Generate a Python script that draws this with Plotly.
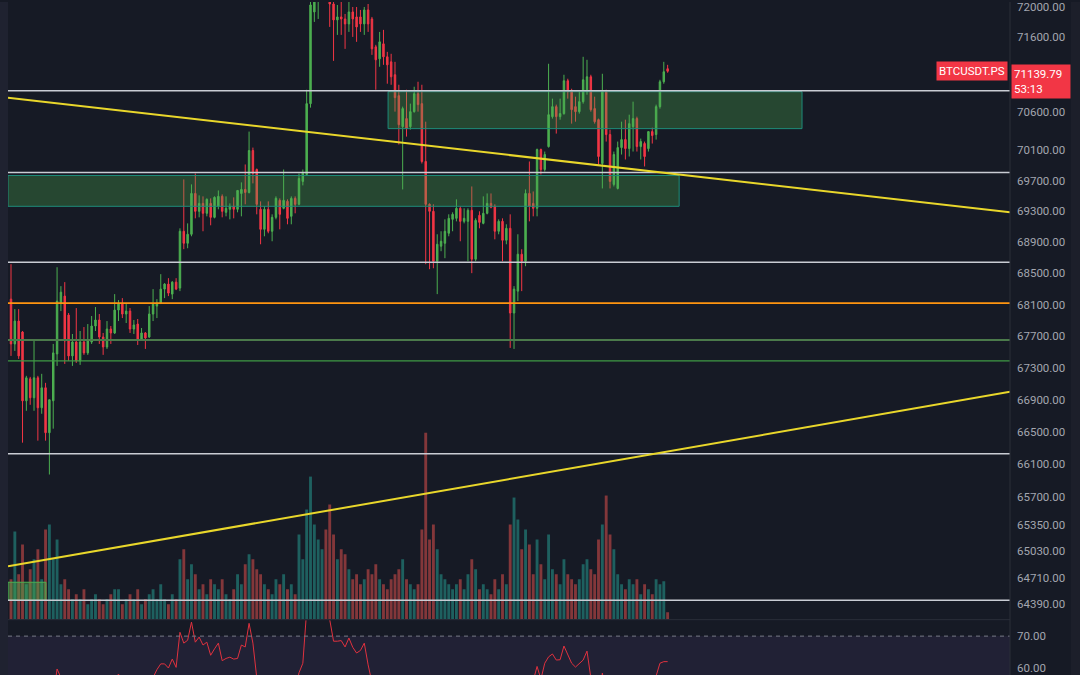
import math
import plotly.graph_objects as go

# ---------------- data ----------------
opens = [68171, 67602, 67892, 67753, 66887, 67162, 66925, 67175, 66800, 67050,
         66489, 66887, 67476, 68121, 68210, 67968, 67451, 67627, 67388, 67627,
         67489, 67627, 67829, 67905, 67690, 67564, 67791, 67741, 68032, 68108,
         67981, 68019, 67791, 67854, 67653, 67741, 67690, 67981, 68082, 68121,
         68299, 68363, 68235, 68388, 68312, 69042, 68887, 69003, 69532, 69300,
         69403, 69274, 69403, 69222, 69365, 69494, 69287, 69326, 69365, 69326,
         69532, 69584, 69545, 70092, 69844, 69326, 69067, 69326, 69042, 69222,
         69442, 69339, 69429, 69235, 69468, 69391, 69689, 69779, 70710, 71933,
         72107, 72269, 72471, 72202, 72040, 71826, 71866, 71839, 71772, 71933,
         71866, 71866, 71772, 71960, 71839, 71465, 71305, 71505, 71332, 71265,
         71093, 70815, 70406, 70512, 70406, 70604, 70841, 70710, 69949, 69391,
         69300, 68656, 68849, 68887, 69016, 69196, 69209, 69339, 69170, 69170,
         69313, 68682, 69248, 69144, 69274, 69403, 69365, 69042, 69170, 68926,
         69080, 67994, 68273, 68746, 68656, 69532, 69403, 69339, 70105, 69844,
         70144, 70538, 70670, 70538, 70578, 71013, 70868, 70670, 70604, 70736,
         70868, 71066, 70644, 70498, 69923, 70868, 70302, 69650, 69597, 70131,
         70236, 70118, 70406, 70512, 70144, 70184, 70118, 70341, 70302, 70670,
         71000, 71173]
highs = [68618, 68044, 68044, 67766, 67200, 67187, 67640, 67200, 67225, 67112,
         66900, 67602, 68579, 68337, 68388, 67994, 67728, 68057, 67766, 67816,
         67854, 67956, 68070, 67981, 67741, 67892, 67829, 68235, 68159, 68184,
         68108, 68057, 67905, 67918, 67804, 67753, 68082, 68299, 68171, 68490,
         68375, 68439, 68401, 68439, 69080, 69715, 69144, 69650, 69792, 69507,
         69494, 69468, 69468, 69494, 69571, 69520, 69494, 69403, 69481, 69571,
         69676, 69910, 70341, 70131, 69857, 69429, 69365, 69429, 69261, 69494,
         69468, 69844, 69455, 69494, 69494, 69792, 69844, 70894, 72094, 72134,
         72336, 72607, 72607, 72269, 72134, 72027, 72134, 71906, 72067, 72000,
         72000, 71960, 72000, 72040, 71866, 71492, 71665, 71692, 71398, 71372,
         71265, 70960, 70670, 70894, 70710, 70934, 71000, 70960, 70472, 69403,
         69391, 69003, 69042, 69196, 69261, 69287, 69455, 69365, 69339, 69339,
         69623, 69209, 69300, 69494, 69532, 69532, 69391, 69196, 69209, 69132,
         69261, 68337, 69003, 68810, 69584, 69949, 69558, 70118, 70118, 70079,
         71239, 70776, 70697, 70776, 71093, 71040, 70907, 70802, 70868, 71332,
         71292, 71093, 70802, 70512, 71106, 70894, 70367, 70079, 70210, 70472,
         70498, 70564, 70736, 70538, 70249, 70210, 70341, 70393, 70697, 71026,
         71265, 71225]
lows = [67451, 67514, 67413, 66365, 66762, 66837, 66762, 66390, 66725, 66390,
        65971, 66539, 67325, 68019, 67350, 67388, 67325, 67363, 67338, 67464,
        67464, 67602, 67766, 67602, 67464, 67539, 67602, 67728, 67892, 67930,
        67867, 67741, 67728, 67589, 67640, 67539, 67678, 67892, 67930, 68108,
        68184, 68210, 68171, 68286, 68273, 68811, 68823, 68977, 69209, 69222,
        69042, 69235, 69119, 69209, 69326, 69222, 69235, 69196, 69209, 69287,
        69235, 69391, 69532, 69663, 69261, 68874, 68977, 69016, 68913, 69196,
        69067, 69326, 69132, 69132, 69274, 69378, 69637, 69766, 70657, 71799,
        71839, 72202, 72134, 71732, 71278, 71625, 71625, 71438, 71665, 71598,
        71532, 71665, 71625, 71665, 71358, 70894, 71199, 71225, 70974, 70960,
        70604, 70171, 69584, 70275, 70367, 70591, 70604, 69923, 68618, 68554,
        68566, 68235, 68785, 68695, 68977, 69042, 69170, 68913, 69144, 68656,
        68503, 68656, 69080, 69132, 69261, 69339, 68938, 69003, 68656, 68874,
        67552, 67539, 68146, 68273, 68592, 69170, 69235, 69235, 69779, 69818,
        70131, 70512, 70315, 70498, 70564, 70776, 70446, 70472, 70578, 70710,
        70828, 70604, 70446, 69910, 69597, 70210, 69597, 69623, 69584, 70040,
        69975, 70014, 70079, 70079, 69975, 69884, 70079, 70184, 70236, 70644,
        70974, 71120]
closes = [67602, 67892, 67451, 66887, 67175, 66925, 67175, 66800, 67050, 66489,
          66900, 67489, 68146, 68260, 67640, 67451, 67627, 67388, 67627, 67489,
          67640, 67829, 67905, 67690, 67564, 67791, 67741, 68032, 68108, 67981,
          68019, 67791, 67842, 67653, 67741, 67678, 67981, 68108, 68121, 68299,
          68363, 68248, 68388, 68299, 69042, 68887, 69003, 69532, 69300, 69403,
          69274, 69455, 69222, 69481, 69494, 69300, 69339, 69365, 69326, 69571,
          69584, 69545, 70092, 69792, 69391, 69067, 69326, 69042, 69222, 69468,
          69261, 69442, 69209, 69468, 69391, 69727, 69805, 70710, 72027, 72107,
          72269, 72471, 72202, 72040, 71826, 71866, 71839, 71772, 71933, 71839,
          71732, 71772, 71960, 71772, 71438, 71292, 71532, 71332, 71225, 71066,
          70789, 70432, 70644, 70380, 70604, 70841, 70697, 69949, 69391, 69300,
          68656, 68874, 68913, 69042, 69209, 69261, 69339, 69170, 69209, 69313,
          68682, 69183, 69157, 69274, 69403, 69352, 69042, 69170, 68926, 69080,
          67994, 68299, 68746, 68656, 69532, 69365, 69339, 70105, 69844, 70040,
          70564, 70670, 70538, 70578, 71013, 70868, 70630, 70604, 70736, 71026,
          71066, 70630, 70472, 70014, 70868, 70302, 69689, 70040, 70131, 70236,
          70118, 70446, 70512, 70144, 70210, 70014, 70341, 70289, 70670, 71000,
          71133, 71139.79]
volumes = [400, 880, 450, 750, 350, 500, 600, 700, 400, 900,
           950, 600, 800, 350, 400, 300, 200, 250, 200, 300,
           150, 200, 250, 200, 150, 200, 250, 300, 300, 150,
           200, 250, 200, 300, 150, 200, 250, 300, 200, 350,
           200, 150, 250, 200, 600, 700, 400, 550, 450, 300,
           350, 250, 400, 350, 300, 400, 250, 200, 300, 450,
           350, 550, 650, 600, 500, 450, 350, 300, 250, 400,
           350, 450, 300, 350, 250, 850, 600, 1100, 1430, 950,
           800, 700, 900, 1150, 850, 600, 700, 650, 500, 400,
           450, 350, 400, 500, 450, 550, 400, 350, 300, 400,
           450, 500, 600, 400, 350, 300, 350, 900, 1870, 800,
           950, 700, 450, 400, 350, 300, 350, 400, 300, 450,
           600, 500, 300, 350, 300, 250, 400, 300, 450, 350,
           950, 1220, 1000, 700, 900, 750, 450, 800, 550, 400,
           850, 500, 450, 350, 600, 450, 400, 350, 400, 550,
           600, 500, 450, 800, 950, 1240, 850, 700, 450, 350,
           300, 400, 350, 400, 250, 350, 300, 250, 400, 350,
           380, 70]
rsi = [50, 53, 47, 38, 42, 40, 44, 37, 41, 35,
       42, 51, 59.7, 57, 52, 49, 51, 47, 51, 49,
       51, 53, 54.5, 52, 50, 53, 52, 56.5, 58.1, 55.5,
       56, 52, 53, 50, 52, 51, 55, 57, 59.5, 61.3,
       61.3, 60, 62.8, 60.2, 71.2, 67.8, 68.7, 74.4, 68.1, 69.7,
       67.2, 68.1, 64.0, 66.0, 67.8, 62.3, 63.0, 63.4, 62.8, 63.0,
       67.2, 66.6, 74.0, 67.8, 57.0, 50, 54, 50, 53, 56,
       52, 54, 51, 55, 53, 58.5, 61.5, 78, 86, 87,
       88, 89, 82, 74.5, 68.4, 68.4, 68.6, 66.6, 69.4, 66.5,
       64.7, 65.5, 67.8, 61, 55, 50, 53, 50, 47, 45,
       41, 37, 41, 39, 42, 45, 43, 35, 29, 28,
       25, 32, 34, 37, 40, 41, 43, 40, 41, 42,
       35, 41, 40, 42, 44, 43, 39, 41, 37, 40,
       30, 35, 42, 41, 52, 50, 56, 60.5, 56.5, 61.5,
       63.5, 64.4, 62.5, 62.6, 66.9, 64, 61.5, 60.3, 61.5, 62.5,
       65.3, 57, 54, 47, 58.4, 52, 44, 49, 51, 53,
       52, 55.5, 57, 52, 53, 51, 54, 53.5, 57.5, 61.5,
       62, 62]

price_ticks = [72000, 71600, 70600, 70100, 69700, 69300, 68900, 68500, 68100,
               67700, 67300, 66900, 66500, 66100, 65700, 65350, 65030, 64710, 64390]
rsi_ticks = [70, 60]

white_levels = [70880, 69805, 68643, 66229, 64438]
orange_level = 68120
green_levels = [67652, 67388]
zones = [(98.2, 206.0, 70380, 70868), (-0.78, 174.0, 69365, 69766)]
small_zone = (-0.78, 9.1, 64438, 64655)
trend_desc = ((-0.78, 70789), (260.16, 69287))
trend_asc = ((-0.78, 64848), (260.16, 66999))
symbol = "BTCUSDT.PS"
last_price = 71139.79
countdown = "53:13"

x_range = [-0.78, 260.16]
price_range = [64210, 72067]
rsi_range = [57.81, 75]
vol_range = [0, 6190]

# ---------------- figure ----------------
idx = list(range(len(closes)))
UP = '#4caf50'
DN = '#f23645'
BG = '#161a25'

fig = go.Figure()
fig.add_trace(go.Candlestick(
    x=idx, open=opens, high=highs, low=lows, close=closes,
    increasing=dict(line=dict(color=UP, width=1), fillcolor=UP),
    decreasing=dict(line=dict(color=DN, width=1), fillcolor=DN),
    whiskerwidth=0, xaxis='x', yaxis='y', showlegend=False, hoverinfo='skip'))

vol_colors = ['rgba(38,166,154,0.5)' if c >= o else 'rgba(239,83,80,0.5)'
              for o, c in zip(opens, closes)]
fig.add_trace(go.Bar(x=idx, y=volumes, marker=dict(color=vol_colors, line=dict(width=0)),
                     xaxis='x', yaxis='y3', showlegend=False, hoverinfo='skip'))

fig.add_trace(go.Scatter(x=idx, y=rsi, mode='lines', line=dict(color='#e0323f', width=1),
                         xaxis='x', yaxis='y2', showlegend=False, hoverinfo='skip'))

shapes = []
# RSI band
shapes.append(dict(type='rect', xref='paper', x0=0, x1=1, yref='y2', y0=30, y1=70,
                   fillcolor='rgba(126,87,194,0.11)', line=dict(width=0), layer='below'))
shapes.append(dict(type='line', xref='paper', x0=0, x1=1, yref='y2', y0=70, y1=70,
                   line=dict(color='#787b86', width=1, dash='4px,4px')))
# zones
for x0, x1, y0, y1 in zones:
    shapes.append(dict(type='rect', xref='x', x0=x0, x1=x1, yref='y', y0=y0, y1=y1,
                       fillcolor='rgba(76,175,80,0.30)', line=dict(color='#1e8c7a', width=1)))
shapes.append(dict(type='rect', xref='x', x0=small_zone[0], x1=small_zone[1], yref='y',
                   y0=small_zone[2], y1=small_zone[3],
                   fillcolor='rgba(76,175,80,0.45)', line=dict(color='#4caf50', width=1)))
# horizontal levels
for lv in white_levels:
    shapes.append(dict(type='line', xref='paper', x0=0, x1=1, yref='y', y0=lv, y1=lv,
                       line=dict(color='#c9ccd4', width=1.5)))
shapes.append(dict(type='line', xref='paper', x0=0, x1=1, yref='y', y0=orange_level, y1=orange_level,
                   line=dict(color='#ff9510', width=1.6)))
shapes.append(dict(type='line', xref='paper', x0=0, x1=1, yref='y', y0=green_levels[0], y1=green_levels[0],
                   line=dict(color='#4b7a4b', width=2)))
shapes.append(dict(type='line', xref='paper', x0=0, x1=1, yref='y', y0=green_levels[1], y1=green_levels[1],
                   line=dict(color='#3f9a44', width=1.2)))
# trend lines
for (xa, ya), (xb, yb) in (trend_desc, trend_asc):
    shapes.append(dict(type='line', xref='x', x0=xa, x1=xb, yref='y', y0=ya, y1=yb,
                       line=dict(color='#e9d72b', width=2)))
# frame details
shapes.append(dict(type='rect', xref='paper', x0=-8 / 1002, x1=0, yref='paper', y0=0, y1=1,
                   fillcolor='#1f2230', line=dict(width=0)))
shapes.append(dict(type='line', xref='paper', x0=1, x1=1, yref='paper', y0=0, y1=1,
                   line=dict(color='#2a2e39', width=1)))
shapes.append(dict(type='rect', xref='paper', x0=1063 / 1002, x1=1072 / 1002, yref='paper', y0=0, y1=1,
                   fillcolor='#1c1f2a', line=dict(width=0)))
shapes.append(dict(type='line', xref='paper', x0=0, x1=1, yref='paper', y0=55.5 / 675, y1=55.5 / 675,
                   line=dict(color='#2a2e39', width=1)))

tagfont = dict(family='Roboto, Liberation Sans, sans-serif', size=11.5, color='#ffffff')
annotations = [
    dict(xref='paper', x=1, xanchor='right', xshift=-2, yref='y', y=math.log10(last_price),
         yanchor='middle', text=symbol, showarrow=False, bgcolor=DN, borderpad=2,
         font=tagfont),
    dict(xref='paper', x=1, xanchor='left', xshift=1, yref='y', y=math.log10(last_price),
         yanchor='top', yshift=7, text=f"{last_price:.2f}<br>{countdown}", align='left',
         showarrow=False, bgcolor=DN, borderpad=2, width=54,
         font=tagfont),
]

tickfont = dict(family='Roboto, Liberation Sans, sans-serif', size=11.5, color='#a3a6af')
fig.update_layout(
    width=1080, height=675, margin=dict(l=8, r=70, t=0, b=0),
    paper_bgcolor=BG, plot_bgcolor=BG, showlegend=False,
    boxgap=0.45, bargap=0.25, hovermode=False,
    xaxis=dict(range=x_range, showgrid=False, zeroline=False, showticklabels=False,
               showline=False, rangeslider=dict(visible=False), fixedrange=True),
    yaxis=dict(type='log', domain=[56 / 675, 1],
               range=[math.log10(price_range[0]), math.log10(price_range[1])],
               side='right', tickvals=price_ticks, ticktext=[f"{v:.2f}" for v in price_ticks],
               showgrid=False, zeroline=False, ticks='', tickfont=tickfont,
               ticklabelstandoff=6, ticklabeloverflow='allow'),
    yaxis2=dict(domain=[0, 55 / 675], range=rsi_range, side='right', anchor='x',
                tickvals=rsi_ticks, ticktext=[f"{v:.2f}" for v in rsi_ticks],
                showgrid=False, zeroline=False, ticks='', tickfont=tickfont,
                ticklabelstandoff=6, ticklabeloverflow='allow'),
    yaxis3=dict(overlaying='y', range=vol_range, visible=False, showgrid=False),
    shapes=shapes, annotations=annotations,
)

fig.write_html("out.html")
